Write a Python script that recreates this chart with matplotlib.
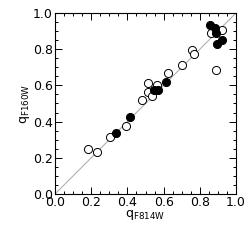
import matplotlib
matplotlib.use("Agg")
import matplotlib.pyplot as plt
from matplotlib.ticker import MultipleLocator

# open circles
q814_open = [0.184, 0.230, 0.304, 0.392, 0.483, 0.512, 0.512, 0.536, 0.565,
             0.622, 0.702, 0.759, 0.770, 0.860, 0.921, 0.889]
q160_open = [0.249, 0.231, 0.314, 0.378, 0.520, 0.616, 0.565, 0.539, 0.603,
             0.668, 0.710, 0.797, 0.775, 0.889, 0.908, 0.684]

# filled circles
q814_fill = [0.339, 0.416, 0.549, 0.571, 0.611, 0.856, 0.884, 0.889, 0.893, 0.921]
q160_fill = [0.336, 0.424, 0.572, 0.576, 0.618, 0.935, 0.917, 0.889, 0.828, 0.852]

fig = plt.figure(figsize=(2.49, 2.49), dpi=100)
ax = fig.add_axes([55 / 249, 1 - 194 / 249, 181 / 249, 181 / 249])

ax.plot([0, 1], [0, 1], color="#b0b0b0", lw=0.8, zorder=1)
ax.scatter(q814_open, q160_open, s=34, facecolors="white", edgecolors="black",
           linewidths=0.7, zorder=2)
ax.scatter(q814_fill, q160_fill, s=34, facecolors="black", edgecolors="black",
           linewidths=0.7, zorder=3)

ax.set_xlim(0, 1)
ax.set_ylim(0, 1)
ax.xaxis.set_major_locator(MultipleLocator(0.2))
ax.yaxis.set_major_locator(MultipleLocator(0.2))
ax.xaxis.set_minor_locator(MultipleLocator(0.05))
ax.yaxis.set_minor_locator(MultipleLocator(0.05))
ax.tick_params(which="both", direction="in", top=True, right=True, width=0.7)
ax.tick_params(which="major", length=5, labelsize=9, pad=1.5)
ax.tick_params(which="minor", length=2.5)
ax.xaxis.set_major_formatter(plt.FuncFormatter(lambda v, p: "%.1f" % v))
ax.yaxis.set_major_formatter(plt.FuncFormatter(lambda v, p: "%.1f" % v))
for s in ax.spines.values():
    s.set_linewidth(0.8)

ax.set_xlabel(r"q$_{\mathrm{F814W}}$", fontsize=9, labelpad=-1)
ax.set_ylabel(r"q$_{\mathrm{F160W}}$", fontsize=9, labelpad=1)

fig.savefig("out.png", dpi=100)
